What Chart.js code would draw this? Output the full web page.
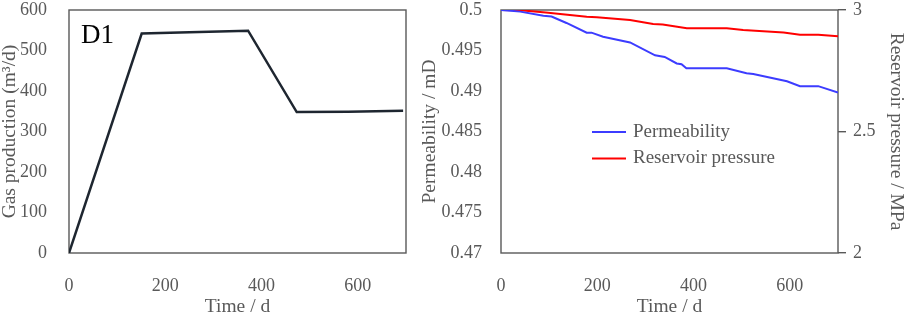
<!DOCTYPE html>
<html>
<head>
<meta charset="utf-8">
<script src="https://cdn.jsdelivr.net/npm/chart.js@4"></script>
<style>
html, body { margin: 0; padding: 0; background: #fff; }
#wrap { position: relative; width: 906px; height: 317px; }
canvas { position: absolute; top: 0; }
#gas { left: 0; }
#perm { left: 420px; }
</style>
</head>
<body>
<div id="wrap">
	<canvas id="gas" width="420" height="317"></canvas>
	<canvas id="perm" width="486" height="317"></canvas>
</div>
<script>
// left panel: gas production
var gasTime  = [0, 151, 250, 372, 473, 580, 694];
var gasValue = [0, 542, 545, 549, 348, 349, 351];

// right panel: permeability (mD) and reservoir pressure (MPa)
var permTime  = [0, 40, 88, 105, 136, 178, 188, 212, 268, 320, 340, 365, 375, 385, 469, 510, 524, 594, 621, 659, 700];
var permValue = [0.5, 0.4998, 0.4993, 0.4992, 0.4984, 0.4972, 0.4972, 0.4967, 0.4960, 0.4944, 0.4942, 0.4934, 0.4933, 0.4928, 0.4928, 0.4922, 0.4921, 0.4912, 0.4906, 0.4906, 0.4898];
var presTime  = [0, 40, 93, 178, 199, 268, 316, 336, 386, 469, 503, 587, 621, 659, 700];
var presValue = [3.0, 2.999, 2.990, 2.9725, 2.970, 2.959, 2.942, 2.940, 2.9245, 2.9245, 2.918, 2.907, 2.898, 2.898, 2.8915];

// tick labels
var timeTicks = [0, 200, 400, 600];
var gasTicks  = [0, 100, 200, 300, 400, 500, 600];
var permTicks = [0.47, 0.475, 0.48, 0.485, 0.49, 0.495, 0.5];
var presTicks = [2, 2.5, 3];

var grey = "#595959"
  , fonts = "'Liberation Serif', 'Times New Roman', serif"
  , tickFont = { family: fonts, size: 18 }
  , titleFont = { family: fonts, size: 19.5, lineHeight: 1 };

function pts(xs, ys) {
	return xs.map(function (x, i) { return { x: x, y: ys[i] }; });
}

function fixedTicks(list) {
	return function (s) {
		s.ticks = list.map(function (v) { return { value: v }; });
	};
}

function fitY(w) {
	return function (s) { s.width = w; s.paddingTop = 0; s.paddingBottom = 0; };
}

function fitX(s) {
	s.height = 64; s.paddingLeft = 0; s.paddingRight = 0;
}

var boxPlugin = {
	id: "box",
	beforeDatasetsDraw: function (chart) {
		var a = chart.chartArea, ctx = chart.ctx;
		ctx.save();
		ctx.strokeStyle = grey;
		ctx.lineWidth = 1.4;
		ctx.strokeRect(a.left, a.top, a.right - a.left, a.bottom - a.top);
		ctx.restore();
	}
};

function xScale() {
	return {
		type: "linear", min: 0, max: 700,
		afterBuildTicks: fixedTicks(timeTicks),
		afterFit: fitX,
		grid: { display: false },
		border: { display: false },
		ticks: { color: grey, font: tickFont, padding: 14 },
		title: { display: true, text: "Time / d", color: grey, font: titleFont, padding: 0 }
	};
}

var labelPlugin = {
	id: "panelLabel",
	afterDraw: function (chart) {
		var a = chart.chartArea, ctx = chart.ctx;
		ctx.save();
		ctx.fillStyle = "#000";
		ctx.font = "27px " + fonts;
		ctx.textBaseline = "top";
		ctx.fillText("D1", a.left + 12, a.top + 12);
		ctx.restore();
	}
};

var legendPlugin = {
	id: "innerLegend",
	afterDraw: function (chart) {
		var a = chart.chartArea, ctx = chart.ctx;
		ctx.save();
		ctx.font = "19px " + fonts;
		ctx.textBaseline = "middle";
		chart.data.datasets.forEach(function (ds, i) {
			var y = a.top + 122 + i * 26.5;
			ctx.strokeStyle = ds.borderColor;
			ctx.lineWidth = 2;
			ctx.beginPath();
			ctx.moveTo(a.left + 91, y);
			ctx.lineTo(a.left + 125, y);
			ctx.stroke();
			ctx.fillStyle = grey;
			ctx.fillText(ds.label, a.left + 132, y);
		});
		ctx.restore();
	}
};

new Chart(document.getElementById("gas").getContext("2d"), {
	type: "line",
	data: {
		datasets: [{
			label: "Gas production",
			data: pts(gasTime, gasValue),
			borderColor: "#1e2630",
			borderWidth: 2.5,
			pointRadius: 0,
			fill: false
		}]
	},
	options: {
		responsive: false,
		animation: false,
		layout: { padding: { top: 10, right: 14, left: 0, bottom: 0 } },
		plugins: { legend: { display: false }, tooltip: { enabled: false } },
		scales: {
			x: xScale(),
			y: {
				type: "linear", min: 0, max: 600,
				afterBuildTicks: fixedTicks(gasTicks),
				afterFit: fitY(69),
				grid: { display: false },
				border: { display: false },
				ticks: { color: grey, font: tickFont, padding: 14 },
				title: { display: true, text: "Gas production (m\u00b3/d)", color: grey, font: titleFont, padding: 0 }
			}
		}
	},
	plugins: [boxPlugin, labelPlugin]
});

new Chart(document.getElementById("perm").getContext("2d"), {
	type: "line",
	data: {
		datasets: [{
			label: "Permeability",
			data: pts(permTime, permValue),
			borderColor: "#3c3cff",
			borderWidth: 2,
			pointRadius: 0,
			fill: false,
			yAxisID: "y"
		}, {
			label: "Reservoir pressure",
			data: pts(presTime, presValue),
			borderColor: "#ff0000",
			borderWidth: 2,
			pointRadius: 0,
			fill: false,
			yAxisID: "y2"
		}]
	},
	options: {
		responsive: false,
		animation: false,
		layout: { padding: { top: 10, right: 0, left: 0, bottom: 0 } },
		plugins: { legend: { display: false }, tooltip: { enabled: false } },
		scales: {
			x: xScale(),
			y: {
				type: "linear", position: "left", min: 0.47, max: 0.5,
				afterBuildTicks: fixedTicks(permTicks),
				afterFit: fitY(81),
				grid: { display: false },
				border: { display: false },
				ticks: { color: grey, font: tickFont, padding: 11, callback: function (v) { return String(v); } },
				title: { display: true, text: "Permeability / mD", color: grey, font: titleFont, padding: 0 }
			},
			y2: {
				type: "linear", position: "right", min: 2, max: 3,
				afterBuildTicks: fixedTicks(presTicks),
				afterFit: fitY(68),
				grid: { display: true, drawOnChartArea: false, drawTicks: true, tickLength: 8, color: grey, lineWidth: 1.4 },
				border: { display: false },
				ticks: { color: grey, font: tickFont, padding: 7, callback: function (v) { return String(v); } },
				title: { display: true, text: "Reservoir pressure / MPa", color: grey, font: titleFont, padding: 0 }
			}
		}
	},
	plugins: [boxPlugin, legendPlugin]
});
</script>
</body>
</html>
